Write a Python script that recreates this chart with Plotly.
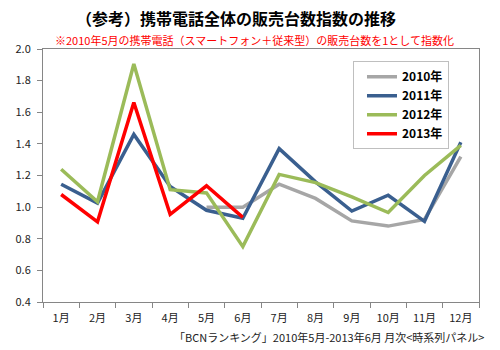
import plotly.graph_objects as go

months = ["1月", "2月", "3月", "4月", "5月", "6月", "7月", "8月", "9月", "10月", "11月", "12月"]
series_names = ["2010年", "2011年", "2012年", "2013年"]
v2010 = [None, None, None, None, 1.00, 1.00, 1.145, 1.055, 0.913, 0.88, 0.922, 1.32]
v2011 = [1.145, 1.025, 1.46, 1.13, 0.98, 0.93, 1.37, 1.16, 0.975, 1.075, 0.91, 1.41]
v2012 = [1.24, 1.034, 1.905, 1.11, 1.09, 0.75, 1.207, 1.155, 1.065, 0.966, 1.20, 1.39]
v2013 = [1.08, 0.907, 1.662, 0.954, 1.135, 0.935, None, None, None, None, None, None]
colors = ["#A6A6A6", "#3A5F8F", "#9BBB59", "#FF0000"]

title = "（参考）携帯電話全体の販売台数指数の推移"
subtitle = "※2010年5月の携帯電話（スマートフォン＋従来型）の販売台数を1として指数化"
footer = "「BCNランキング」2010年5月-2013年6月 月次<時系列パネル>"

FONT = "Noto Sans CJK JP"

fig = go.Figure()
for name, vals, c in zip(series_names, [v2010, v2011, v2012, v2013], colors):
    fig.add_trace(go.Scatter(x=months, y=vals, name=name, mode="lines",
                             line=dict(color=c, width=3.5), connectgaps=False))

fig.update_layout(
    width=500, height=350,
    margin=dict(l=43, r=21, t=49, b=48),
    paper_bgcolor="white", plot_bgcolor="white",
    font=dict(family=FONT, size=11, color="#222222"),
    showlegend=True,
    legend=dict(x=0.711, y=0.952, xanchor="left", yanchor="top",
                bordercolor="#BFBFBF", borderwidth=1, bgcolor="white",
                font=dict(family=FONT, size=12, color="black", weight="bold"),
                tracegroupgap=0, itemwidth=30, indentation=8, entrywidth=92),
    xaxis=dict(type="category", categoryorder="array", categoryarray=months,
               range=[-0.5, 11.5], showgrid=False, showline=True, linecolor="#868686",
               linewidth=1, mirror=True, ticks="outside", tickson="boundaries",
               ticklen=5, tickcolor="#868686", ticklabelstandoff=6,
               tickfont=dict(size=11, color="#222222")),
    yaxis=dict(range=[0.4, 2.0], dtick=0.2, tick0=0.4, tickformat=".1f",
               showgrid=False, zeroline=False, showline=True, linecolor="#868686",
               linewidth=1, mirror=True, ticks="outside", ticklen=5, tickcolor="#868686",
               ticklabelstandoff=4, tickfont=dict(size=11, color="#222222")),
    annotations=[
        dict(text=title, xref="paper", yref="paper", x=(236-43)/436, y=(302-18)/253,
             xanchor="center", yanchor="middle", showarrow=False,
             font=dict(family=FONT, size=16, color="black", weight="bold")),
        dict(text=subtitle, xref="paper", yref="paper", x=(254-43)/436, y=(302-40)/253,
             xanchor="center", yanchor="middle", showarrow=False,
             font=dict(family=FONT, size=11, color="#FF0000")),
        dict(text=footer, xref="paper", yref="paper", x=(486-43)/436, y=(302-337)/253,
             xanchor="right", yanchor="middle", showarrow=False,
             font=dict(family=FONT, size=11, color="#222222")),
    ],
)

fig.write_html("out.html")
